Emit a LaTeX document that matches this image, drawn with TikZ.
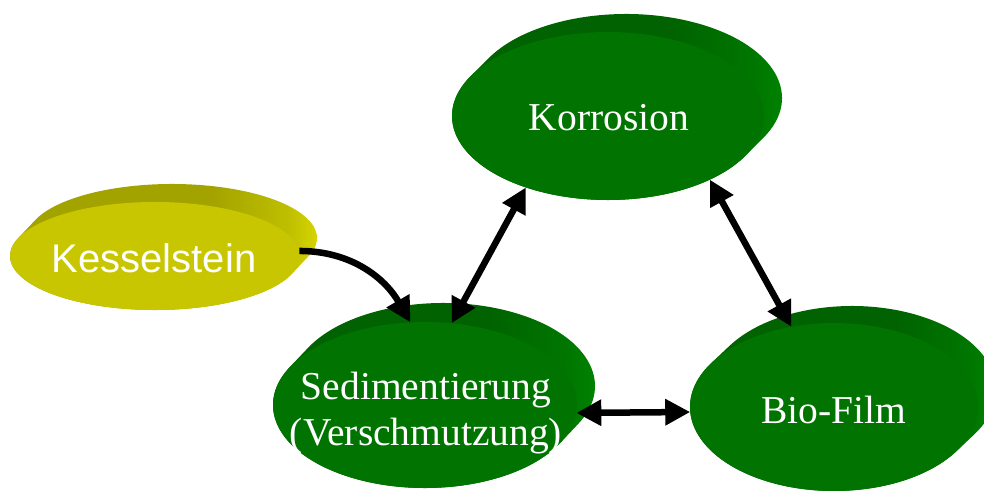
\documentclass[tikz,border=0pt]{standalone}
\usepackage{fontspec}
\setmainfont{Liberation Serif}
\newfontfamily\arialfont{Liberation Sans}
\usetikzlibrary{arrows.meta,shapes.geometric,calc}

\definecolor{grFront}{RGB}{0,115,0}
\definecolor{grDark}{RGB}{0,98,0}
\definecolor{grMid}{RGB}{0,118,0}
\definecolor{grLight}{RGB}{0,138,0}
\definecolor{ylFront}{RGB}{200,198,0}
\definecolor{ylDark}{RGB}{163,163,0}
\definecolor{ylMid}{RGB}{190,190,0}
\definecolor{ylLight}{RGB}{226,226,0}

% side shadings: dark over most of the body, lighter toward the right rim
\pgfdeclarehorizontalshading{slabgreen}{100bp}{color(0bp)=(grDark); color(25bp)=(grDark);
  color(57bp)=(grDark); color(68bp)=(grMid); color(75bp)=(grLight); color(100bp)=(grLight)}
\pgfdeclarehorizontalshading{slabyellow}{100bp}{color(0bp)=(ylDark); color(25bp)=(ylDark);
  color(57bp)=(ylDark); color(68bp)=(ylMid); color(75bp)=(ylLight); color(100bp)=(ylLight)}

% extruded oval body: centre (#1,#2), radii #3/#4, depth offset (#5,#6), shading #7
\newcommand\ovalslab[7]{%
  \pgfmathsetmacro\tA{atan(-(#4*#5)/(#3*#6))}%
  \pgfmathsetmacro\tB{\tA+180}%
  \pgfmathsetmacro\tC{\tA+360}%
  \shade[shading=#7]
    ($(#1pt,#2pt)+(#5pt,#6pt)+(\tA:#3pt and #4pt)$)
    arc[start angle=\tA, end angle=\tB, x radius=#3pt, y radius=#4pt]
    -- ($(#1pt,#2pt)+(\tB:#3pt and #4pt)$)
    arc[start angle=\tB, end angle=\tC, x radius=#3pt, y radius=#4pt]
    -- cycle;
}

\tikzset{
  blob/.style={ellipse, inner sep=0pt, outer sep=0pt, draw=none},
  serifword/.style={text=white, font=\fontsize{39.5}{46}\selectfont, align=center, inner sep=0pt},
  sansword/.style={text=white, font=\arialfont\fontsize{40}{46}\selectfont, inner sep=0pt},
  link/.style={line width=6.5pt, -{Triangle[length=25pt,width=25pt]}},
  twoway/.style={line width=6.5pt, {Triangle[length=25pt,width=25pt]}-{Triangle[length=25pt,width=25pt]}},
}

\begin{document}
\begin{tikzpicture}
\useasboundingbox (0,0) rectangle (984pt,490pt);
\clip (0,0) rectangle (984pt,490pt);

% bodies of the ovals
\ovalslab{155}{234}{145}{54}{17}{18}{slabyellow}
\ovalslab{608}{374}{156}{84}{18}{18}{slabgreen}
\ovalslab{425}{85}{152}{83}{18}{19}{slabgreen}
\ovalslab{834}{83}{144}{84}{18}{17}{slabgreen}

% front faces
\node[blob, fill=ylFront, minimum width=290pt, minimum height=108pt] (kes) at (155pt,234pt) {};
\node[blob, fill=grFront, minimum width=312pt, minimum height=168pt] (kor) at (608pt,374pt) {};
\node[blob, fill=grFront, minimum width=304pt, minimum height=166pt] (sed) at (425pt,85pt) {};
\node[blob, fill=grFront, minimum width=288pt, minimum height=168pt] (bio) at (834pt,83pt) {};

% labels
\node[sansword] (kesT) at (154pt,232pt) {Kesselstein};
\node[serifword] (korT) at (609pt,372pt) {Korrosion};
\node[serifword] (sedT) at (426pt,77pt) {Sedimentierung\\(Verschmutzung)};
\node[serifword] (bioT) at (834pt,80pt) {Bio-Film};

% connectors
\draw[link] (kes.2) to[out=0, in=120] (sed.100);
\draw[twoway] (kor.221) -- (sed.72);
\draw[twoway] (kor.328) -- (bio.118);
\draw[twoway] (sed.357) -- (bio.182);
\end{tikzpicture}
\end{document}
